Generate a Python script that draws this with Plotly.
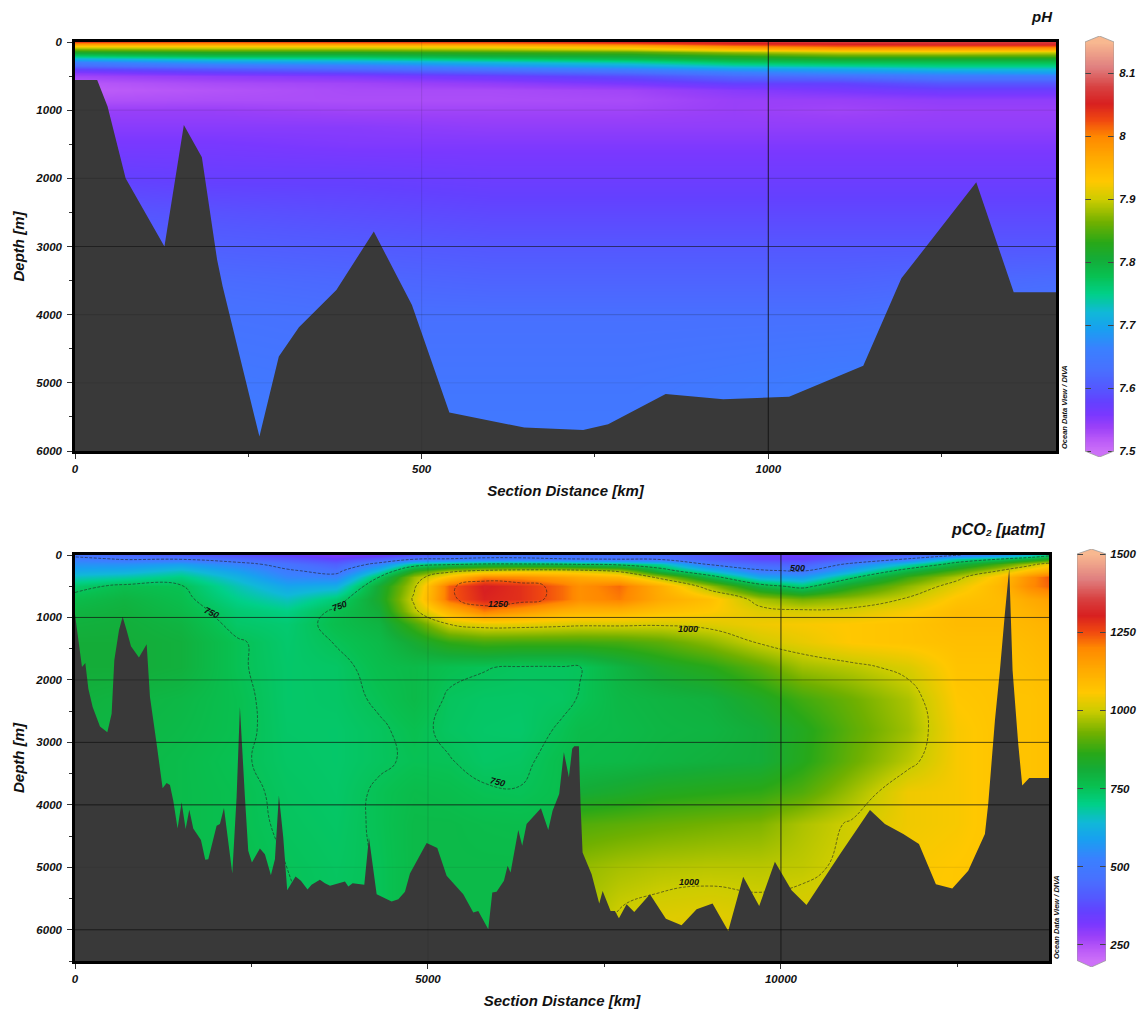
import numpy as np
import plotly.graph_objects as go

W, H = 1140, 1012
FONT = "Liberation Sans"

# ---------- pH section ----------
ph_distance = [0, 200, 400, 600, 800, 950, 1100, 1250, 1415]
ph_depth = [0, 25, 60, 100, 150, 200, 250, 300, 350, 400, 450, 500, 600, 700, 850, 1000,
            1250, 1500, 2000, 2500, 3000, 3500, 4000, 5000, 6000]
ph_values = [
    [8.03, 8.02, 8.03, 8.03, 8.05, 8.06, 8.07, 8.07, 8.07],
    [7.98, 7.98, 7.98, 7.99, 8.01, 8.04, 8.05, 8.06, 8.06],
    [7.93, 7.93, 7.93, 7.94, 7.96, 8.00, 8.02, 8.02, 8.02],
    [7.87, 7.88, 7.88, 7.89, 7.91, 7.95, 7.97, 7.97, 7.97],
    [7.82, 7.83, 7.83, 7.84, 7.85, 7.88, 7.90, 7.91, 7.90],
    [7.76, 7.78, 7.78, 7.80, 7.81, 7.83, 7.85, 7.85, 7.85],
    [7.71, 7.73, 7.74, 7.76, 7.78, 7.80, 7.81, 7.81, 7.81],
    [7.66, 7.69, 7.70, 7.72, 7.74, 7.77, 7.78, 7.78, 7.78],
    [7.62, 7.64, 7.65, 7.68, 7.70, 7.73, 7.74, 7.75, 7.75],
    [7.58, 7.60, 7.62, 7.64, 7.66, 7.69, 7.70, 7.72, 7.72],
    [7.55, 7.57, 7.58, 7.60, 7.62, 7.65, 7.67, 7.68, 7.69],
    [7.535, 7.545, 7.555, 7.57, 7.59, 7.62, 7.63, 7.65, 7.65],
    [7.52, 7.53, 7.535, 7.545, 7.56, 7.58, 7.58, 7.60, 7.60],
    [7.515, 7.523, 7.53, 7.53, 7.535, 7.55, 7.56, 7.57, 7.57],
    [7.525, 7.528, 7.528, 7.528, 7.53, 7.54, 7.54, 7.545, 7.545],
    [7.54, 7.54, 7.535, 7.535, 7.535, 7.54, 7.535, 7.54, 7.54],
    [7.55, 7.55, 7.55, 7.545, 7.545, 7.545, 7.545, 7.545, 7.545],
    [7.56, 7.56, 7.555, 7.555, 7.555, 7.555, 7.555, 7.555, 7.555],
    [7.58, 7.575, 7.575, 7.57, 7.57, 7.57, 7.57, 7.57, 7.57],
    [7.60, 7.595, 7.59, 7.585, 7.585, 7.585, 7.585, 7.585, 7.585],
    [7.615, 7.61, 7.605, 7.60, 7.60, 7.60, 7.60, 7.60, 7.60],
    [7.63, 7.625, 7.62, 7.615, 7.615, 7.615, 7.615, 7.62, 7.625],
    [7.64, 7.635, 7.63, 7.63, 7.63, 7.63, 7.63, 7.635, 7.64],
    [7.65, 7.648, 7.642, 7.642, 7.642, 7.648, 7.655, 7.655, 7.655],
    [7.66, 7.655, 7.65, 7.65, 7.65, 7.655, 7.66, 7.66, 7.66],
]
ph_floor_x = [0, 32, 47, 73, 129, 157, 183, 205, 213, 266, 294, 323, 377, 431, 486, 540,
              648, 733, 769, 852, 935, 1030, 1137, 1192, 1300, 1354, 1415]
ph_floor_d = [557, 557, 948, 2000, 3000, 1217, 1691, 3196, 3588, 5789, 4615, 4185, 3637, 2781,
              3857, 5437, 5657, 5691, 5608, 5163, 5242, 5203, 4748, 3467, 2058, 3672, 3672]

# ---------- pCO2 section ----------
co2_distance = [0, 700, 1500, 2300, 3000, 3700, 4300, 4800, 5300, 5800, 6300, 6900, 7150, 7700,
                8300, 9000, 9700, 10300, 11000, 11800, 12500, 13100, 13500, 13797]
co2_depth = [0, 60, 150, 250, 350, 500, 700, 900, 1100, 1400, 1800, 2300, 2800, 3300, 3800,
             4300, 5000, 5800, 6500]
co2_values = [
    [480, 440, 420, 390, 360, 310, 340, 400, 440, 470, 470, 470, 465, 460, 450, 400, 350, 340, 380, 430, 495, 560, 640, 720],
    [520, 490, 490, 450, 410, 360, 420, 480, 500, 510, 510, 500, 490, 480, 470, 420, 370, 360, 420, 500, 680, 740, 800, 850],
    [560, 560, 590, 530, 470, 420, 530, 700, 740, 770, 770, 760, 750, 730, 680, 490, 440, 420, 520, 660, 790, 890, 970, 1040],
    [610, 620, 660, 590, 510, 470, 650, 860, 970, 1010, 1030, 1030, 1020, 980, 790, 650, 510, 490, 620, 790, 900, 1000, 1080, 1130],
    [660, 680, 710, 630, 540, 530, 745, 960, 1080, 1200, 1190, 1150, 1130, 1100, 970, 780, 610, 580, 730, 880, 980, 1080, 1180, 1240],
    [730, 765, 755, 670, 600, 620, 820, 985, 1235, 1310, 1285, 1225, 1185, 1225, 1120, 960, 790, 720, 850, 950, 1030, 1100, 1190, 1230],
    [770, 790, 765, 700, 660, 720, 830, 1010, 1235, 1300, 1285, 1225, 1185, 1210, 1130, 1080, 970, 930, 960, 1005, 1070, 1090, 1130, 1150],
    [790, 800, 775, 725, 705, 760, 810, 985, 1110, 1210, 1170, 1120, 1110, 1110, 1080, 1060, 1020, 1010, 1015, 1050, 1090, 1090, 1110, 1130],
    [800, 805, 790, 735, 725, 765, 790, 890, 1005, 1030, 1030, 1020, 1015, 1015, 1010, 1020, 1040, 1050, 1060, 1070, 1090, 1090, 1100, 1110],
    [810, 810, 800, 755, 730, 752, 775, 820, 870, 890, 885, 885, 885, 890, 910, 950, 1005, 1030, 1060, 1070, 1080, 1080, 1090, 1100],
    [810, 810, 800, 755, 733, 738, 765, 775, 760, 752, 745, 745, 748, 790, 830, 860, 910, 965, 985, 1015, 1070, 1070, 1080, 1090],
    [800, 790, 780, 760, 733, 737, 755, 775, 745, 738, 737, 742, 752, 780, 790, 800, 840, 885, 925, 975, 1060, 1070, 1070, 1080],
    [790, 785, 775, 760, 735, 733, 745, 760, 742, 735, 733, 755, 770, 775, 785, 790, 810, 850, 910, 965, 1050, 1070, 1070, 1080],
    [790, 780, 770, 755, 738, 733, 745, 755, 752, 738, 742, 765, 775, 780, 790, 800, 810, 855, 920, 985, 1050, 1070, 1070, 1080],
    [790, 780, 770, 760, 742, 735, 755, 770, 765, 755, 752, 765, 815, 830, 850, 860, 870, 900, 965, 1040, 1050, 1070, 1070, 1080],
    [790, 780, 770, 760, 745, 738, 755, 775, 775, 770, 768, 770, 900, 910, 920, 930, 940, 975, 1005, 1040, 1050, 1070, 1070, 1080],
    [790, 780, 770, 765, 750, 742, 752, 775, 775, 775, 775, 775, 955, 970, 980, 985, 985, 990, 1010, 1050, 1060, 1070, 1070, 1080],
    [790, 780, 770, 765, 752, 745, 752, 775, 775, 775, 775, 775, 970, 1005, 1020, 1025, 1015, 1020, 1030, 1060, 1060, 1070, 1070, 1080],
    [790, 780, 770, 765, 752, 745, 752, 775, 775, 775, 775, 775, 970, 1005, 1020, 1025, 1015, 1020, 1030, 1060, 1060, 1070, 1070, 1080],
]
co2_floor_x = [0, 23, 99, 146, 189, 250, 354, 458, 519, 557, 623, 675, 731, 793, 906, 1015, 1062, 1156,
               1241, 1298, 1345, 1392, 1453, 1510, 1567, 1619, 1675, 1784, 1845, 1888, 2006, 2053, 2110,
               2228, 2289, 2336, 2407, 2454, 2506, 2619, 2690, 2775, 2832, 2888, 2950, 3006, 3124, 3200,
               3294, 3351, 3469, 3540, 3612, 3824, 3872, 3933, 4098, 4164, 4273, 4485, 4580, 4674, 4745,
               4981, 5132, 5264, 5500, 5642, 5712, 5854, 5911, 5972, 6076, 6128, 6170, 6279, 6335, 6397,
               6600, 6704, 6765, 6859, 6925, 6996, 7043, 7072, 7138, 7161, 7190, 7318, 7426, 7474, 7587,
               7648, 7705, 7813, 7922, 8144, 8370, 8592, 8805, 9031, 9253, 9465, 9692, 9914, 10150, 10362,
               10836, 11261, 11473, 11733, 11955, 12195, 12427, 12653, 12889, 12936, 13031, 13102, 13172,
               13234, 13281, 13361, 13418, 13517, 13797]
co2_floor_d = [950, 1150, 1792, 1728, 2140, 2435, 2745, 2836, 2541, 1686, 1204, 990, 1204, 1461, 1643, 1429,
               2274, 3023, 3735, 3649, 3681, 3933, 4377, 3959, 4387, 4077, 4377, 4564, 4879, 4869, 4334, 4307,
               4050, 5099, 3879, 2435, 3879, 4735, 4922, 4698, 4789, 5126, 4869, 3852, 4521, 5366, 5147, 5216,
               5356, 5281, 5200, 5254, 5297, 5227, 5307, 5254, 5281, 4521, 5431, 5548, 5511, 5393, 5099, 4612,
               4692, 5136, 5431, 5725, 5698, 5992, 5404, 5393, 5217, 4976, 5083, 4403, 4655, 4307, 4056, 4403,
               4093, 3825, 3157, 3558, 3103, 3060, 3060, 3986, 4762, 5110, 5581, 5378, 5699, 5699, 5816, 5592,
               5715, 5431, 5822, 5929, 5672, 5581, 6020, 5153, 5618, 4912, 5367, 5602, 4789, 4082, 4307, 4468,
               4628, 5270, 5340, 5056, 4468, 3986, 2649, 1846, 937, 214, 1846, 3023, 3692, 3569, 3569]
co2_contour_levels = (500, 1250, 250)
# contour labels: text, distance, depth, angle
co2_contour_labels = [
    ("750", 1940, 930, 25), ("750", 3750, 818, -20), ("750", 5990, 3640, 15), ("1250", 5990, 785, 0),
    ("1000", 8680, 1190, 0), ("1000", 8697, 5230, 0), ("500", 10230, 209, 0),
]

# ---------- axis labels, colour scale, gridlines ----------
ph_range = (7.5, 8.15)
co2_range = (200, 1500)
ph_ticks = [7.5, 7.6, 7.7, 7.8, 7.9, 8.0, 8.1]
ph_tick_text = ["7.5", "7.6", "7.7", "7.8", "7.9", "8", "8.1"]
co2_ticks = [250, 500, 750, 1000, 1250, 1500]
ph_hgrid = {1000: .10, 2000: .22, 3000: .6, 4000: .2, 5000: .08}
ph_vgrid = {500: .1, 1000: .85}
co2_hgrid = {1000: .7, 2000: .35, 3000: .7, 4000: .8, 5000: .08, 6000: .75}
co2_vgrid = {5000: .12, 10000: .8}
FLOOR = "#393939"

odv = [
    (0, "#cc70f8"), (.03, "#b858f8"), (.06, "#9a40f8"), (.09, "#7a38ff"), (.12, "#6440ff"),
    (.155, "#5458ff"), (.2, "#4870ff"), (.25, "#3a80ff"), (.3, "#18a0f0"), (.34, "#10b8d8"),
    (.385, "#00d088"), (.43, "#08c050"), (.47, "#14ac38"), (.51, "#28a818"), (.56, "#70b000"),
    (.615, "#cccc00"), (.66, "#ffc800"), (.72, "#ffa800"), (.77, "#ff8800"), (.81, "#f04810"),
    (.85, "#d82020"), (.89, "#d84040"), (.94, "#e08080"), (1, "#f8b890"),
]


def fx(px):
    return px / W


def fy(px):
    return 1 - px / H


tick_font = dict(family=FONT, size=11.5, color="#111", weight="bold", style="italic")
title_font = dict(family=FONT, size=15, color="#111", weight="bold", style="italic")
head_font = dict(family=FONT, size=16, color="#111", weight="bold", style="italic")
small_font = dict(family=FONT, size=7.5, color="#111", weight="bold", style="italic")
label_font = dict(family=FONT, size=9, color="#111", weight="bold", style="italic")

fig = go.Figure()

# data panels
fig.add_trace(go.Heatmap(x=ph_distance, y=ph_depth, z=ph_values, colorscale=odv, zmin=ph_range[0],
                         zmax=ph_range[1], zsmooth="best", showscale=False, xaxis="x", yaxis="y"))
fig.add_trace(go.Scatter(x=ph_floor_x + [ph_floor_x[-1], 0], y=ph_floor_d + [6000, 6000], fill="toself",
                         fillcolor=FLOOR, mode="none", showlegend=False, xaxis="x", yaxis="y"))

fig.add_trace(go.Heatmap(x=co2_distance, y=co2_depth, z=co2_values, colorscale=odv, zmin=co2_range[0],
                         zmax=co2_range[1], zsmooth="best", showscale=False, xaxis="x2", yaxis="y2"))
fig.add_trace(go.Contour(x=co2_distance, y=co2_depth, z=co2_values, showscale=False, autocontour=False,
                         contours=dict(coloring="lines", start=co2_contour_levels[0], end=co2_contour_levels[1],
                                       size=co2_contour_levels[2], showlabels=False),
                         line=dict(color="#222", width=0.6, dash="3px,1.5px", smoothing=1.3),
                         colorscale=[[0, "#222"], [1, "#222"]], xaxis="x2", yaxis="y2"))
fig.add_trace(go.Scatter(x=co2_floor_x + [co2_floor_x[-1], 0], y=co2_floor_d + [6500, 6500], fill="toself",
                         fillcolor=FLOOR, mode="none", showlegend=False, xaxis="x2", yaxis="y2"))

# colour strips
ph_lim = (7.4905, 8.1595)
co2_lim = (179, 1516)
for (lim, rng, xa, ya) in ((ph_lim, ph_range, "x3", "y3"), (co2_lim, co2_range, "x4", "y4")):
    levels = np.linspace(lim[0], lim[1], 260)
    fig.add_trace(go.Heatmap(x=[0, 1], y=levels, z=np.column_stack([levels, levels]), colorscale=odv,
                             zmin=rng[0], zmax=rng[1], zsmooth="best", showscale=False, xaxis=xa, yaxis=ya))

shapes = []
for grid, ref_x, ref_y in ((ph_hgrid, "x", "y"), (co2_hgrid, "x2", "y2")):
    for depth, op in grid.items():
        shapes.append(dict(type="line", xref=f"{ref_x} domain", yref=ref_y, x0=0, x1=1, y0=depth, y1=depth,
                           line=dict(color="#111", width=1), opacity=op, layer="above"))
for grid, ref_x, ref_y in ((ph_vgrid, "x", "y"), (co2_vgrid, "x2", "y2")):
    for dist, op in grid.items():
        shapes.append(dict(type="line", yref=f"{ref_y} domain", xref=ref_x, y0=0, y1=1, x0=dist, x1=dist,
                           line=dict(color="#111", width=1), opacity=op, layer="above"))

# hexagon ends of the colour strips
for (lim, rng, xa, ya) in ((ph_lim, ph_range, "x3", "y3"), (co2_lim, co2_range, "x4", "y4")):
    lo, hi = lim
    a, b = rng
    for path in (f"M0,{hi} L0.5,{hi} L0,{b} Z", f"M1,{hi} L0.5,{hi} L1,{b} Z",
                 f"M0,{lo} L0.5,{lo} L0,{a} Z", f"M1,{lo} L0.5,{lo} L1,{a} Z"):
        shapes.append(dict(type="path", path=path, xref=xa, yref=ya, fillcolor="white",
                           line=dict(width=0), layer="above"))
    shapes.append(dict(type="path", path=f"M0,{a} L0,{b} L0.5,{hi} L1,{b} L1,{a} L0.5,{lo} Z", xref=xa, yref=ya,
                       line=dict(color="#9a9a9a", width=0.8), layer="above"))

section_axis = dict(showline=True, linecolor="black", linewidth=2.5, mirror=True, ticks="outside", ticklen=5,
                    tickcolor="#333", tickwidth=1, showgrid=False, zeroline=False, tickfont=tick_font,
                    title_font=title_font, automargin=False, tickformat="d")
strip_y = dict(side="right", showline=True, linecolor="rgba(0,0,0,0)", mirror="ticks", ticks="inside", ticklen=6,
               tickcolor="#444", tickwidth=1, showgrid=False, zeroline=False, tickfont=tick_font, automargin=False)
strip_x = dict(range=[0, 1], showticklabels=False, ticks="", showgrid=False, zeroline=False, showline=False)
minor_y = dict(dtick=500, ticks="outside", ticklen=3, tickcolor="#333")

annotations = [
    dict(text="pH", xref="paper", yref="paper", x=fx(1042), y=fy(16), xanchor="center", yanchor="middle",
         showarrow=False, font=title_font),
    dict(text="pCO₂ [µatm]", xref="paper", yref="paper", x=fx(998), y=fy(529), xanchor="center", yanchor="middle",
         showarrow=False, font=head_font),
    dict(text="Ocean Data View / DIVA", xref="paper", yref="paper", x=fx(1064), y=fy(407), textangle=-90,
         xanchor="center", yanchor="middle", showarrow=False, font=small_font),
    dict(text="Ocean Data View / DIVA", xref="paper", yref="paper", x=fx(1056), y=fy(917), textangle=-90,
         xanchor="center", yanchor="middle", showarrow=False, font=small_font),
]
for text, dist, depth, angle in co2_contour_labels:
    annotations.append(dict(text=text, xref="x2", yref="y2", x=dist, y=depth, textangle=angle, showarrow=False,
                            xanchor="center", yanchor="middle", font=label_font))

fig.update_layout(
    width=W, height=H, margin=dict(l=0, r=0, t=0, b=0, autoexpand=False), paper_bgcolor="white",
    plot_bgcolor="white", showlegend=False, shapes=shapes, annotations=annotations,
    xaxis=dict(domain=[fx(75), fx(1056)], range=[0, 1415], anchor="y", dtick=500, tick0=0,
               minor=dict(dtick=250, ticks="outside", ticklen=3, tickcolor="#333"),
               title=dict(text="Section Distance [km]", standoff=12), **section_axis),
    yaxis=dict(domain=[fy(451), fy(42)], range=[6000, 0], anchor="x", dtick=1000, tick0=0, minor=minor_y,
               ticklabelstandoff=3, title=dict(text="Depth [m]", standoff=8), **section_axis),
    xaxis2=dict(domain=[fx(75), fx(1049)], range=[0, 13797], anchor="y2", dtick=5000, tick0=0,
                minor=dict(dtick=2500, ticks="outside", ticklen=3, tickcolor="#333"),
                title=dict(text="Section Distance [km]", standoff=12), **section_axis),
    yaxis2=dict(domain=[fy(961), fy(555)], range=[6500, 0], anchor="x2", dtick=1000, tick0=0, minor=minor_y,
                ticklabelstandoff=3, title=dict(text="Depth [m]", standoff=8), **section_axis),
    xaxis3=dict(domain=[fx(1085), fx(1114)], anchor="y3", **strip_x),
    yaxis3=dict(domain=[fy(457), fy(36)], range=list(ph_lim), anchor="x3", tickvals=ph_ticks,
                ticktext=ph_tick_text, ticklabelstandoff=2, **strip_y),
    xaxis4=dict(domain=[fx(1077), fx(1106)], anchor="y4", **strip_x),
    yaxis4=dict(domain=[fy(967), fy(549)], range=list(co2_lim), anchor="x4", tickvals=co2_ticks,
                ticklabelstandoff=1, **strip_y),
)

fig.write_html("out.html", config=dict(displayModeBar=False),
               post_script="document.body.style.margin='0';document.body.style.overflow='hidden';")
